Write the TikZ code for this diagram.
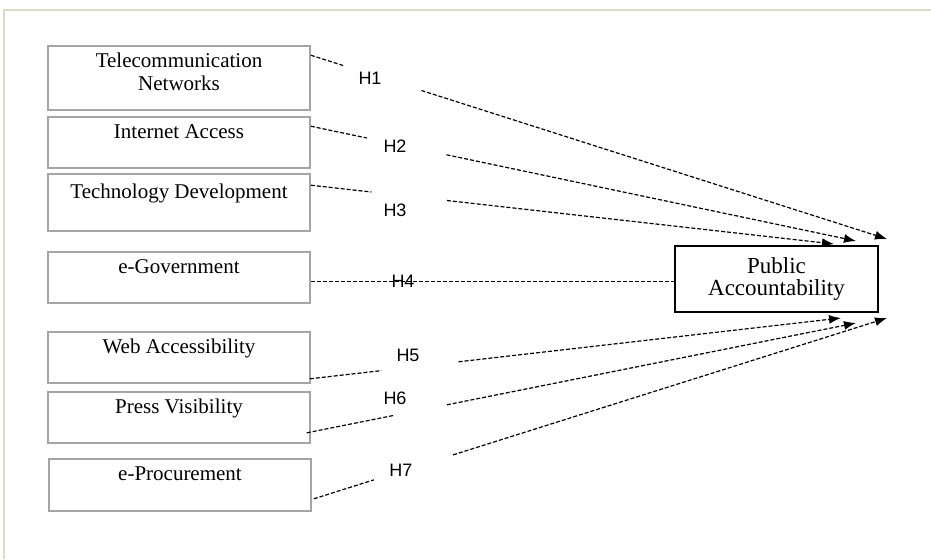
\documentclass[tikz,border=0pt]{standalone}
\usepackage{fontspec}
\setmainfont{Liberation Serif}
\newfontfamily\hfont{Liberation Sans}
\usetikzlibrary{calc,arrows.meta}
\definecolor{frameline}{RGB}{222,217,195}
\definecolor{boxgray}{RGB}{165,165,165}

\tikzset{
  factor/.style={draw=boxgray, line width=0.8pt, minimum width=131pt, minimum height=25.5pt,
    align=center, inner sep=0pt, font=\fontsize{10.5}{11.5}\selectfont,
    text height=7pt, text depth=11.5pt},
  target/.style={draw=black, line width=1pt, minimum width=101.5pt, minimum height=33pt,
    align=center, inner sep=0pt, font=\fontsize{11.5}{11}\selectfont},
  hyp/.style={inner sep=0pt, font=\hfont\fontsize{9}{10}\selectfont},
  link/.style={black, line width=0.6pt, dash pattern=on 2pt off 1pt},
  arr/.style={link, -{Latex[length=6pt,width=4.5pt]}}
}

\begin{document}
\begin{tikzpicture}[x=0.5pt,y=-0.5pt]
  \useasboundingbox (0,0) rectangle (931,559);

  % Frame
  \draw[frameline, line width=0.8pt] (4,559) -- (4,10) -- (931,10);

  % Factors
  \node[factor, minimum height=32pt, text height=18.5pt, text depth=6.5pt] (tel) at (179,78) {Telecommunication\\Networks};
  \node[factor] (net) at (179,142.5) {Internet Access};
  \node[factor, minimum height=28.5pt] (tech) at (179,202.5) {Technology Development};
  \node[factor] (gov) at (179,277.5) {e-Government};
  \node[factor] (web) at (179,357.5) {Web Accessibility};
  \node[factor] (press) at (179,417.5) {Press Visibility};
  \node[factor, minimum height=26pt] (proc) at (180,485) {e-Procurement};

  % Outcome
  \node[target] (pa) at (776.5,279) {Public\\Accountability};

  % Start and end points
  \coordinate (s1) at ($(tel.north east)+(0,10)$);
  \coordinate (s2) at ($(net.north east)+(0,10)$);
  \coordinate (s3) at ($(tech.north east)+(0,12)$);
  \coordinate (s4) at ($(gov.east)+(0,4)$);
  \coordinate (s5) at ($(web.south east)+(-1,-5)$);
  \coordinate (s6) at ($(press.south east)+(-4,-11)$);
  \coordinate (s7) at ($(proc.south east)+(2,-13)$);
  \coordinate (e1) at ($(pa.north east)+(8,-6)$);
  \coordinate (e2) at ($(pa.north east)+(-23,-4)$);
  \coordinate (e3) at ($(pa.north east)+(-45,-1)$);
  \coordinate (e5) at ($(pa.south east)+(-38,5)$);
  \coordinate (e6) at ($(pa.south east)+(-23,10)$);
  \coordinate (e7) at ($(pa.south east)+(8,5)$);

  % H1
  \draw[link] (s1) -- ($(s1)!0.059!(e1)$);
  \draw[arr] ($(s1)!0.192!(e1)$) -- (e1);
  \node[hyp] (h1) at (370,78) {H1};

  % H2
  \draw[link] (s2) -- ($(s2)!0.103!(e2)$);
  \draw[arr] ($(s2)!0.249!(e2)$) -- (e2);
  \node[hyp] (h2) at (395,146) {H2};

  % H3
  \draw[link] (s3) -- ($(s3)!0.116!(e3)$);
  \draw[arr] ($(s3)!0.260!(e3)$) -- (e3);
  \node[hyp] (h3) at (395,210) {H3};

  % H4
  \draw[link] (s4) -- (s4 -| pa.west);
  \node[hyp] (h4) at (403,281) {H4};

  % H5
  \draw[link] (s5) -- ($(s5)!0.135!(e5)$);
  \draw[arr] ($(s5)!0.280!(e5)$) -- (e5);
  \node[hyp] (h5) at (408,355) {H5};

  % H6
  \draw[link] (s6) -- ($(s6)!0.160!(e6)$);
  \draw[arr] ($(s6)!0.255!(e6)$) -- (e6);
  \node[hyp] (h6) at (395,398) {H6};

  % H7
  \draw[link] (s7) -- ($(s7)!0.105!(e7)$);
  \draw[arr] ($(s7)!0.243!(e7)$) -- (e7);
  \node[hyp] (h7) at (401,470) {H7};
\end{tikzpicture}
\end{document}
